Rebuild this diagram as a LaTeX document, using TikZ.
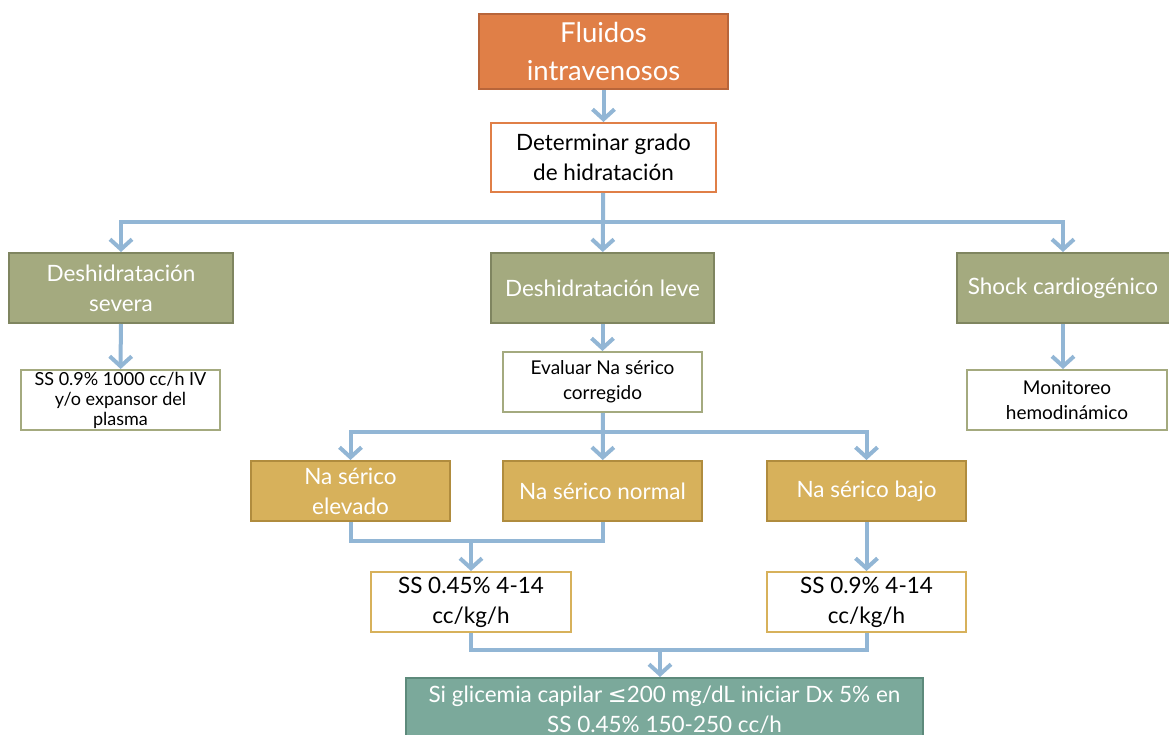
\documentclass[tikz,border=0pt]{standalone}
\usepackage{fontspec}
\setmainfont{Lato}
\newfontfamily\symfont{DejaVu Sans}
\usetikzlibrary{arrows.meta}
\definecolor{naranja}{HTML}{E07F47}
\definecolor{naranjaosc}{HTML}{B8653A}
\definecolor{oliva}{HTML}{A4AA7F}
\definecolor{olivaosc}{HTML}{7F8560}
\definecolor{oro}{HTML}{D7B15B}
\definecolor{oroosc}{HTML}{B08C3E}
\definecolor{verde}{HTML}{7BA99B}
\definecolor{verdeosc}{HTML}{5D8A7B}
\definecolor{flujo}{HTML}{92B6D5}
\tikzset{
  caja/.style={rectangle,line width=2pt,align=center,inner sep=0pt},
  titulo/.style={caja,draw=naranjaosc,fill=naranja,text=white,font=\fontsize{27.5}{38}\selectfont},
  paso/.style={caja,draw=naranja,fill=white,font=\fontsize{22.5}{30}\selectfont},
  estado/.style={caja,draw=olivaosc,fill=oliva,text=white,font=\fontsize{22.5}{30}\selectfont},
  nota/.style={caja,draw=oliva,fill=white,font=\fontsize{19}{25}\selectfont},
  sodio/.style={caja,draw=oroosc,fill=oro,text=white,font=\fontsize{22.5}{30}\selectfont},
  dosis/.style={caja,draw=oro,fill=white,font=\fontsize{22.5}{30}\selectfont},
  final/.style={caja,draw=verdeosc,fill=verde,text=white,font=\fontsize{22.5}{30}\selectfont},
  linea/.style={draw=flujo,line width=4pt},
  flecha/.style={linea,-{Straight Barb[length=10pt,width=22pt,line width=4pt]}}
}

\begin{document}
\begin{tikzpicture}[x=1pt,y=-1pt]
    \useasboundingbox (0,0) rectangle (1169,735);
    % Boxes, top to bottom
    \node[titulo,minimum width=249,minimum height=75] (fluidos) at (603.5,51.5) {Fluidos\\intravenosos};
    \node[paso,minimum width=225,minimum height=69] (grado) at (603.5,157.5) {Determinar grado\\de hidratación};

    \node[estado,minimum width=224,minimum height=70] (severa) at (121,288) {Deshidratación\\severa};
    \node[estado,minimum width=223,minimum height=70] (leve) at (602.5,288) {Deshidratación leve};
    \node[estado,minimum width=213,minimum height=70] (shock) at (1063,288) {Shock cardiogénico};

    \node[nota,minimum width=199,minimum height=60,font=\fontsize{18}{20}\selectfont] (expansor) at (120.5,400) {SS 0.9\% 1000 cc/h IV\\y/o expansor del\\plasma};
    \node[nota,minimum width=199,minimum height=60] (evaluar) at (602.5,382) {Evaluar Na sérico\\corregido};
    \node[nota,minimum width=200,minimum height=60] (monitoreo) at (1067,400) {Monitoreo\\hemodinámico};

    \node[sodio,minimum width=199,minimum height=60] (elevado) at (350.5,491) {Na sérico\\elevado};
    \node[sodio,minimum width=199,minimum height=60] (normal) at (602.5,491) {Na sérico normal};
    \node[sodio,minimum width=199,minimum height=60] (bajo) at (866.5,491) {Na sérico bajo};

    \node[dosis,minimum width=200,minimum height=60] (salino1) at (471,602) {SS 0.45\% 4-14\\cc/kg/h};
    \node[dosis,minimum width=199,minimum height=60] (salino2) at (866.5,602) {SS 0.9\% 4-14\\cc/kg/h};

    \node[final,minimum width=517,minimum height=64] (glicemia) at (664.5,710) {Si glicemia capilar {\symfont ≤}200 mg/dL iniciar Dx 5\% en\\SS 0.45\% 150-250 cc/h};

    % Junctions
    \coordinate (bus1) at (603,222);
    \coordinate (bus2) at (603,432);
    \coordinate (junta1) at (471,541);
    \coordinate (junta2) at (660,650);

    % Connectors
    \draw[flecha] (fluidos) -- (grado);
    \draw[linea] (grado) -- (bus1);
    \draw[flecha] (bus1) -| (severa);
    \draw[flecha] (bus1) -- (leve);
    \draw[flecha] (bus1) -| (shock);

    \draw[flecha] (severa) -- (expansor);
    \draw[flecha] (leve) -- (evaluar);
    \draw[flecha] (shock.south) -- (shock.south |- monitoreo.north);

    \draw[linea] (evaluar) -- (bus2);
    \draw[flecha] (bus2) -| (elevado);
    \draw[flecha] (bus2) -- (normal);
    \draw[flecha] (bus2) -| (bajo);

    \draw[linea] (elevado.south) |- (junta1) -| (normal.south);
    \draw[flecha] (junta1) -- (salino1);
    \draw[flecha] (bajo) -- (salino2);

    \draw[linea] (salino1.south) |- (junta2) -| (salino2.south);
    \draw[flecha] (junta2) -- (junta2 |- glicemia.north);
\end{tikzpicture}
\end{document}
